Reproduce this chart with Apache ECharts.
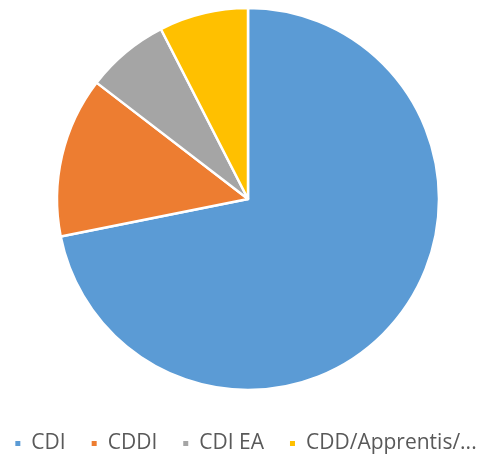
<!DOCTYPE html>
<html>
<head>
<meta charset="utf-8">
<script src="https://cdn.jsdelivr.net/npm/echarts@6/dist/echarts.min.js"></script>
<style>
  html, body { margin: 0; padding: 0; background: #fff; }
  #chart { width: 490px; height: 457px; }
</style>
</head>
<body>
<div id="chart"></div>
<script>
const categories = ['CDI', 'CDDI', 'CDI EA', 'CDD/Apprentis/...']
const values = [143, 27, 14, 15]
const colors = ['#5B9BD5', '#ED7D31', '#A5A5A5', '#FFC000']

const chart = echarts.init(document.getElementById('chart'))

chart.setOption({
  animation: false,
  color: colors,
  legend: {
    top: 428,
    left: 'center',
    icon: 'rect',
    itemWidth: 7,
    itemHeight: 7,
    itemGap: 24,
    textStyle: {
      fontFamily: 'Open Sans',
      fontSize: 21,
      color: '#595959',
      padding: [0, 0, 0, 5]
    },
    data: categories
  },
  series: [{
    type: 'pie',
    center: [248, 199],
    radius: 191,
    startAngle: 90,
    clockwise: true,
    label: { show: false },
    labelLine: { show: false },
    itemStyle: { borderColor: '#fff', borderWidth: 2.5 },
    emphasis: { disabled: true },
    data: categories.map((name, i) => ({ name, value: values[i] }))
  }]
})
</script>
</body>
</html>
